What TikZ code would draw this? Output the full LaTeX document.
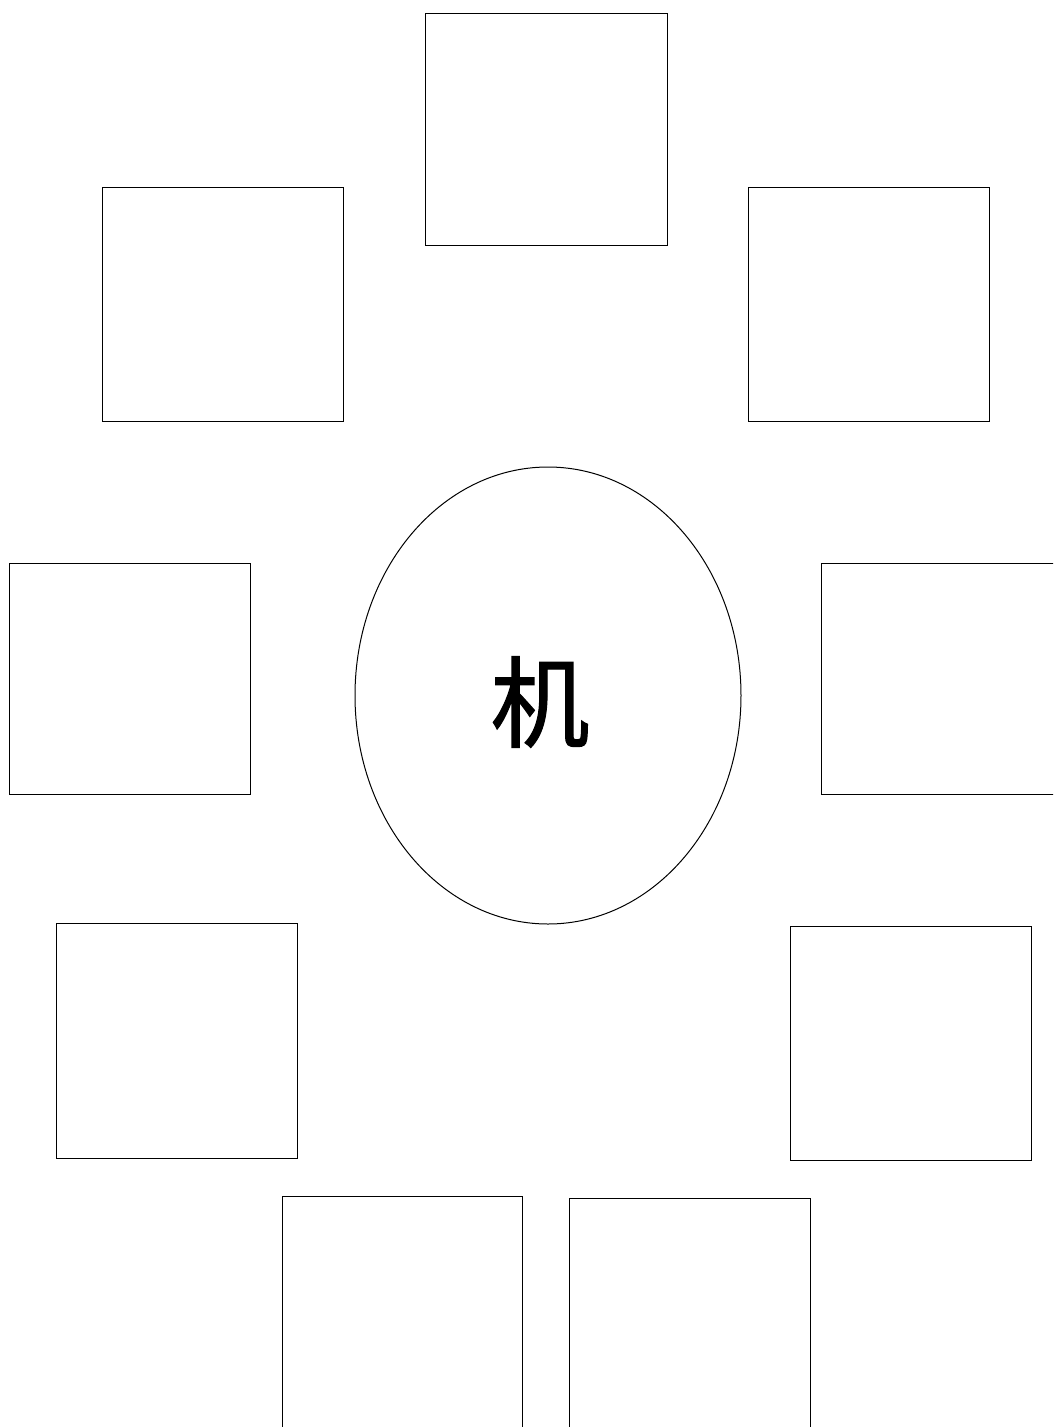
\documentclass[tikz,border=0pt]{standalone}
\usepackage{fontspec}
\usetikzlibrary{shapes.geometric}
\newfontfamily\cjk[FakeBold=1.2]{Noto Sans CJK SC}
\begin{document}
\begin{tikzpicture}[x=1pt,y=-1pt,
  boxst/.style={draw=black,line width=1pt,fill=white},
  ellst/.style={draw=black,line width=1pt}]
\useasboundingbox (0,0) rectangle (1053,1427);
\clip (0,0) rectangle (1053,1427);
\fill[white] (0,0) rectangle (1053,1427);
\draw[boxst] (425,13) rectangle (667,245);
\draw[boxst] (102,187) rectangle (343,421);
\draw[boxst] (748,187) rectangle (989,421);
\draw[boxst] (9,563) rectangle (250,794);
\draw[boxst] (821,563) rectangle (1080,794);
\draw[boxst] (56,923) rectangle (297,1158);
\draw[boxst] (790,926) rectangle (1031,1160);
\draw[boxst] (282,1196) rectangle (522,1460);
\draw[boxst] (569,1198) rectangle (810,1460);
\node[ellst,ellipse,minimum width=386pt,minimum height=457pt,inner sep=0pt] (c) at (548,695.5) {};
\node[font=\cjk\fontsize{99}{99}\selectfont] (t) at (540,702) {机};
\end{tikzpicture}
\end{document}
